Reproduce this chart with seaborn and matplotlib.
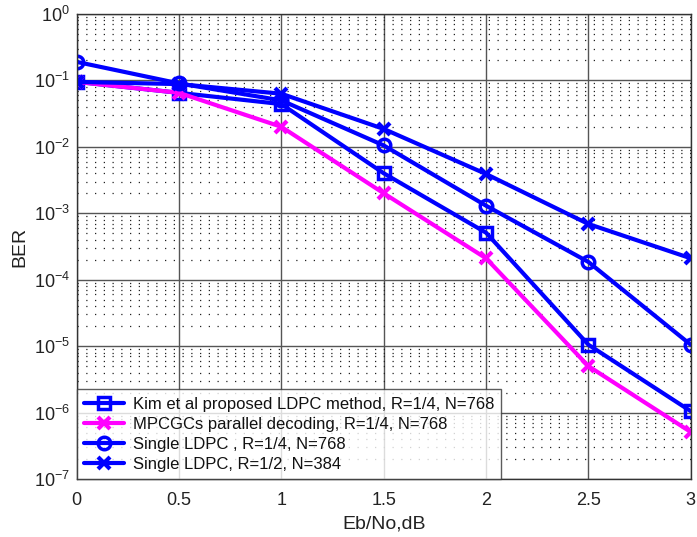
import numpy as np
import pandas as pd
import matplotlib
matplotlib.use("Agg")
import matplotlib.pyplot as plt
import seaborn as sns
from matplotlib.ticker import LogLocator, NullFormatter

ebno = [0, 0.5, 1, 1.5, 2, 2.5, 3]
kim = [0.095, 0.065, 0.044, 0.0040, 5.1e-4, 1.05e-5, 1.05e-6]
mpcgc = [0.095, 0.065, 0.020, 0.0020, 2.1e-4, 5.0e-6, 5.1e-7]
single_14 = [0.19, 0.09, 0.050, 0.0105, 1.3e-3, 1.85e-4, 1.05e-5]
single_12 = [0.095, 0.088, 0.063, 0.0186, 3.9e-3, 6.9e-4, 2.1e-4]

labels = ["Kim et al proposed LDPC method, R=1/4, N=768",
          "MPCGCs parallel decoding, R=1/4, N=768",
          "Single LDPC , R=1/4, N=768",
          "Single LDPC, R=1/2, N=384"]

df = pd.concat([
    pd.DataFrame({"x": ebno, "y": v, "series": lab})
    for v, lab in zip([kim, mpcgc, single_14, single_12], labels)
])

sns.set_style("white")
plt.rcParams['font.family'] = ['Liberation Sans', 'DejaVu Sans']

fig = plt.figure(figsize=(6.97, 5.37), dpi=100)
ax = fig.add_axes([0.110, 0.108, 0.881, 0.866])

palette = {labels[0]: "#0000ff", labels[1]: "#ff00ff", labels[2]: "#0000ff", labels[3]: "#0000ff"}
markers = {labels[0]: "s", labels[1]: "x", labels[2]: "o", labels[3]: "x"}
msizes = {labels[0]: 8, labels[1]: 9, labels[2]: 9, labels[3]: 9}

for lab in labels:
    sub = df[df.series == lab]
    mk = markers[lab]
    kw = dict(marker=mk, markersize=msizes[lab], linewidth=3, color=palette[lab],
              markeredgecolor=palette[lab], label=lab)
    if mk in ("o", "s"):
        kw.update(markerfacecolor="none", markeredgewidth=2.5)
    else:
        kw.update(markeredgewidth=3)
    sns.lineplot(data=sub, x="x", y="y", ax=ax, **kw)

ax.set_yscale("log")
ax.set_xlim(0, 3)
ax.set_ylim(1e-7, 1)
ax.set_xticks([0, 0.5, 1, 1.5, 2, 2.5, 3])
ax.set_xticklabels(["0", "0.5", "1", "1.5", "2", "2.5", "3"])
ax.yaxis.set_major_locator(LogLocator(base=10, numticks=10))
ax.yaxis.set_minor_locator(LogLocator(base=10, subs=np.arange(2, 10), numticks=100))
ax.yaxis.set_minor_formatter(NullFormatter())
ax.grid(which="major", axis="both", linestyle="-", color="#555555", linewidth=1.0)
ax.grid(which="minor", axis="y", linestyle=(0, (1, 6)), color="#222222", linewidth=0.9)
ax.set_axisbelow(True)
ax.tick_params(axis="both", which="major", labelsize=13, direction="in", length=4,
               color="#444444", labelcolor="#222222")
ax.tick_params(axis="x", which="major", pad=9)
ax.tick_params(axis="y", which="major", pad=5)
ax.tick_params(axis="y", which="minor", direction="in", length=2)
ax.set_xlabel("Eb/No,dB", fontsize=14, color="#222222", labelpad=5)
ax.set_ylabel("BER", fontsize=14, color="#222222", labelpad=4)
for s in ax.spines.values():
    s.set_color("#333333")
    s.set_linewidth(1.0)

leg = ax.legend(loc="lower left", fontsize=12, frameon=True, fancybox=False,
                edgecolor="#333333", borderaxespad=0.0, handlelength=2.4,
                handletextpad=0.5, labelspacing=0.3, borderpad=0.45)
leg.get_frame().set_linewidth(1.0)
for t in leg.get_texts():
    t.set_color("#111111")

fig.savefig("out.png", dpi=100)
